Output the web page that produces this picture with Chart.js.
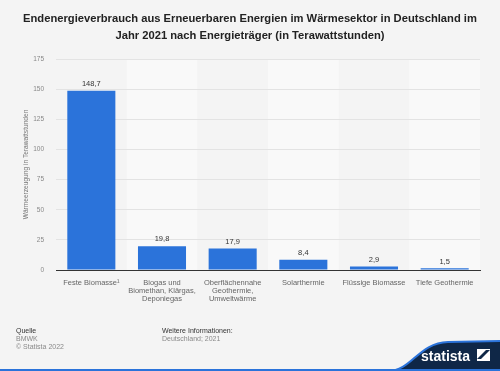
<!DOCTYPE html>
<html lang="de">
<head>
    <meta charset="UTF-8">
    <title>Endenergieverbrauch Wärmesektor 2021</title>
    <script src="https://cdn.jsdelivr.net/npm/chart.js@4.4.1/dist/chart.umd.min.js"></script>
    <style>
        body {
            margin: 0;
            background: #f4f4f4;
            font-family: "Liberation Sans", Arial, sans-serif;
        }

        .page {
            position: relative;
            width: 500px;
            height: 371px;
            overflow: hidden;
            background: #f4f4f4;
        }

        .title {
            position: absolute;
            left: 0;
            top: 10px;
            width: 500px;
            text-align: center;
            font-size: 11.2px;
            font-weight: bold;
            line-height: 17px;
            color: #222;
        }

        .chart-box {
            position: absolute;
            left: 0;
            top: 0;
            width: 500px;
            height: 371px;
        }

        .foot {
            position: absolute;
            top: 327px;
            font-size: 7px;
            line-height: 8px;
            color: #8a8a8a;
        }

        .foot b {
            color: #333;
            font-weight: normal;
        }

        .logo {
            position: absolute;
            right: 0;
            bottom: 0;
        }
    </style>
</head>
<body>
    <div class="page">
        <div class="chart-box">
            <canvas id="chart" width="500" height="371"></canvas>
        </div>
        <div class="title">Endenergieverbrauch aus Erneuerbaren Energien im Wärmesektor in Deutschland im<br>Jahr 2021 nach Energieträger (in Terawattstunden)</div>

        <div class="foot" style="left:16px"><b>Quelle</b><br>BMWK<br>© Statista 2022</div>
        <div class="foot" style="left:162px"><b>Weitere Informationen:</b><br>Deutschland; 2021</div>

        <svg class="logo" width="500" height="40" viewBox="0 0 500 40">
            <path d="M388 40 C 412 40, 418 12, 448 11 L 500 10 L 500 40 Z" fill="#0f2747"/>
            <path d="M388 40 C 412 40, 418 12, 448 11 L 500 10" fill="none" stroke="#2b73da" stroke-width="2"/>
            <rect x="0" y="38" width="500" height="2" fill="#2b73da"/>
            <text x="421" y="30" font-family="Liberation Sans, Arial, sans-serif" font-weight="bold" font-size="14" fill="#ffffff">statista</text>
            <rect x="477" y="18" width="13" height="12" fill="#ffffff"/>
            <path d="M477 28 L 486 19 L 490 19 L 481 28 Z" fill="#0f2747"/>
        </svg>
    </div>

    <script>
        const categories = [
            ['Feste Biomasse¹'],
            ['Biogas und', 'Biomethan, Klärgas,', 'Deponiegas'],
            ['Oberflächennahe', 'Geothermie,', 'Umweltwärme'],
            ['Solarthermie'],
            ['Flüssige Biomasse'],
            ['Tiefe Geothermie']
        ];
        const values = [148.7, 19.8, 17.9, 8.4, 2.9, 1.5];
        const yTicks = [0, 25, 50, 75, 100, 125, 150, 175];

        const barColor = '#2b73da';

        // alternating lighter column bands behind the bars
        const bandPlugin = {
            id: 'bands',
            beforeDraw(chart) {
                const { ctx, chartArea, scales } = chart;
                const x = scales.x;
                const step = x.width / categories.length;
                ctx.save();
                ctx.fillStyle = '#f9f9f9';
                for (let i = 1; i < categories.length; i += 2) {
                    const left = x.getPixelForValue(i) - step / 2;
                    ctx.fillRect(left, chartArea.top, step, chartArea.bottom - chartArea.top);
                }
                ctx.restore();
            }
        };

        // value labels above each bar, German decimal comma
        const valueLabels = {
            id: 'valueLabels',
            afterDatasetsDraw(chart) {
                const { ctx } = chart;
                const meta = chart.getDatasetMeta(0);
                ctx.save();
                ctx.font = '7.5px "Liberation Sans", Arial, sans-serif';
                ctx.fillStyle = '#333';
                ctx.textAlign = 'center';
                ctx.textBaseline = 'bottom';
                meta.data.forEach((bar, i) => {
                    ctx.fillText(values[i].toFixed(1).replace('.', ','), bar.x, bar.y - 3);
                });
                ctx.restore();
            }
        };

        new Chart(document.getElementById('chart'), {
            type: 'bar',
            data: {
                labels: categories,
                datasets: [{
                    data: values,
                    backgroundColor: barColor,
                    categoryPercentage: 1,
                    barPercentage: 0.68
                }]
            },
            options: {
                responsive: false,
                animation: false,
                layout: {
                    padding: { top: 59, right: 20, left: 22, bottom: 0 }
                },
                plugins: {
                    legend: { display: false },
                    tooltip: { enabled: false }
                },
                scales: {
                    x: {
                        grid: { display: false },
                        border: { color: '#333', width: 1 },
                        ticks: {
                            color: '#666',
                            font: { size: 7.5, family: '"Liberation Sans", Arial, sans-serif', lineHeight: 1.05 },
                            padding: 1,
                            maxRotation: 0,
                            autoSkip: false
                        },
                        afterFit(scale) { scale.height = 101; }
                    },
                    y: {
                        min: 0,
                        max: 175,
                        afterBuildTicks(scale) {
                            scale.ticks = yTicks.map(v => ({ value: v }));
                        },
                        grid: { color: '#e3e3e3', drawTicks: false },
                        border: { display: false },
                        ticks: {
                            color: '#888',
                            font: { size: 6.5, family: '"Liberation Sans", Arial, sans-serif' },
                            padding: 12
                        },
                        title: {
                            display: true,
                            text: 'Wärmeerzeugung in Terawattstunden',
                            color: '#777',
                            font: { size: 6.6, family: '"Liberation Sans", Arial, sans-serif' },
                            padding: { top: 0, bottom: 0 }
                        },
                        afterFit(scale) { scale.width = 34; }
                    }
                }
            },
            plugins: [bandPlugin, valueLabels]
        });
    </script>
</body>
</html>
